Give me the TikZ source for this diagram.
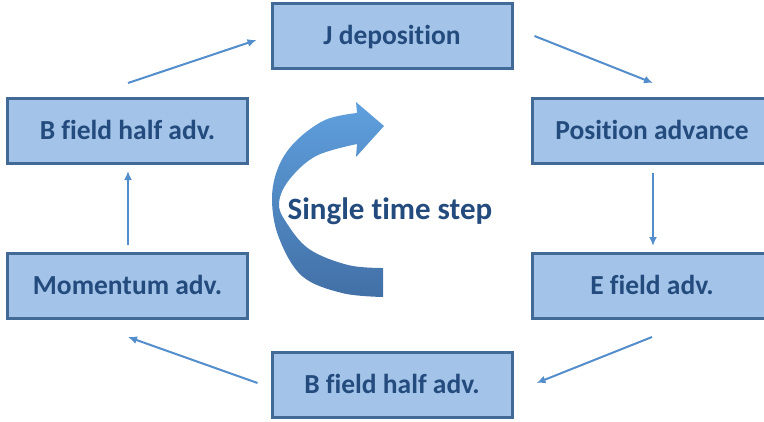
\documentclass[tikz,border=0pt]{standalone}
\usepackage{fontspec}
\setmainfont[Ligatures=NoCommon]{Carlito}
\usetikzlibrary{arrows.meta,calc}

\definecolor{boxfill}{RGB}{163,196,232}
\definecolor{boxedge}{RGB}{65,106,150}
\definecolor{boxtext}{RGB}{35,75,125}
\definecolor{linkcol}{RGB}{84,141,204}
\definecolor{swirltop}{RGB}{95,160,222}
\definecolor{swirlbot}{RGB}{66,112,166}

\tikzset{
  stepbox/.style={draw=boxedge, line width=3pt, fill=boxfill,
    minimum width=240pt, minimum height=65pt, inner sep=0pt,
    text=boxtext, font=\fontsize{27.5}{30}\selectfont\bfseries,
    text height=17.8pt, text depth=0pt},
  link/.style={draw=linkcol, line width=2pt,
    -{Latex[length=9pt,width=8pt]}},
}

\begin{document}
\begin{tikzpicture}[x=1pt, y=-1pt]
  \useasboundingbox (0,0) rectangle (764,421);
  \clip (0,0) rectangle (764,421);

  % the six stages of the cycle
  \node[stepbox] (jdep)  at (392,36)    {J deposition};
  \node[stepbox] (bhalf1) at (127.5,131) {B field half adv.};
  \node[stepbox] (pos)   at (652,131)   {Position advance};
  \node[stepbox] (mom)   at (127.5,286) {Momentum adv.};
  \node[stepbox] (efld)  at (652,286)   {E field adv.};
  \node[stepbox] (bhalf2) at (392,385)  {B field half adv.};

  % links between consecutive stages
  \draw[link] ($(bhalf1.north)+(0.5,-14)$) -- ($(jdep.west)+(-14,4)$);
  \draw[link] ($(jdep.east)+(21,0)$) -- ($(pos.north)+(1,-14)$);
  \draw[link] ($(pos.south)+(1,8)$) -- ($(efld.north)+(1,-6)$);
  \draw[link] ($(efld.south)+(0,17)$) -- ($(bhalf2.east)+(23,-2)$);
  \draw[link] ($(bhalf2.west)+(-13,-2)$) -- ($(mom.south)+(0.5,17)$);
  \draw[link] ($(mom.north)+(0.5,-7)$) -- ($(bhalf1.south)+(0.5,6)$);

  % curved arrow in the middle
  \shade[top color=swirltop, bottom color=swirlbot]
    plot[smooth, tension=0.6] coordinates {(383,297) (342,293) (302,276) (279,238)
      (272,200) (278,168) (295,142) (325,120) (357,113)}
    -- (356,102) -- (384,126) -- (356,157) -- (357,144)
    -- plot[smooth, tension=0.6] coordinates {(357,144) (316,156) (289,180)
      (279,203) (286,222) (309,249) (348,265) (383,268)}
    -- cycle;

  \node[anchor=base, text=boxtext, inner sep=0pt,
        font=\fontsize{31}{34}\selectfont\bfseries] (label) at (390,219)
        {Single time step};
\end{tikzpicture}
\end{document}
